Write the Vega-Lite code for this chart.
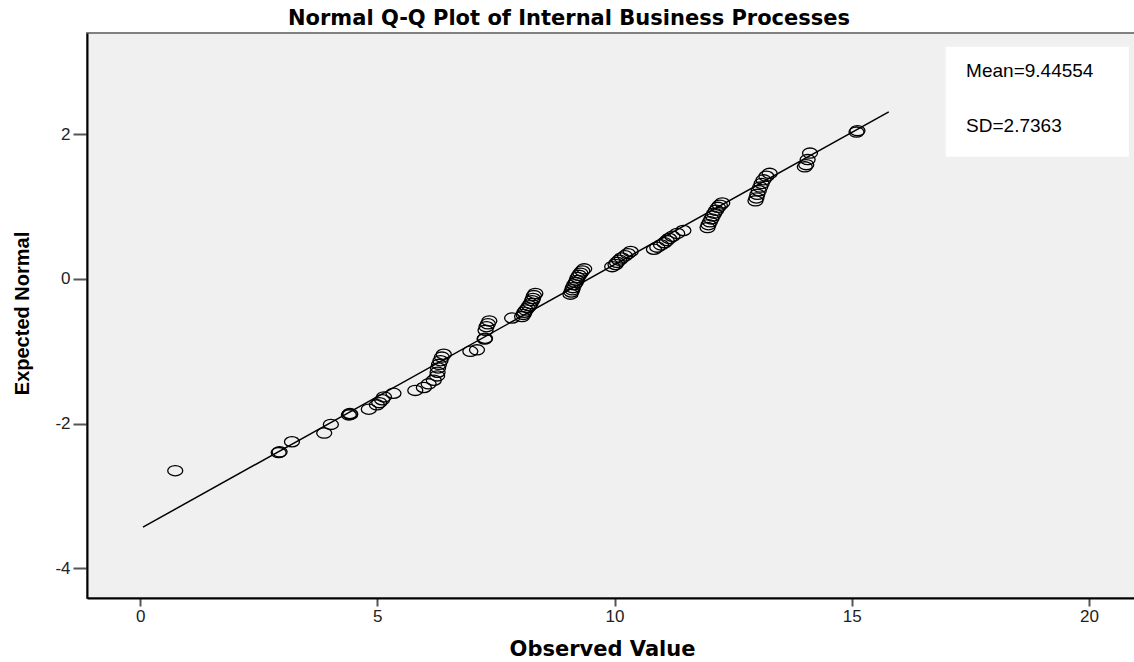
{
  "$schema": "https://vega.github.io/schema/vega-lite/v6.json",
  "width": 1048,
  "height": 565,
  "autosize": {"type": "none"},
  "padding": {"left": 87, "top": 33, "right": 0, "bottom": 64},
  "background": "white",
  "config": {
    "view": {"fill": "#f0f0f0", "stroke": "#808080", "strokeWidth": 2}
  },
  "title": {
    "text": "Normal Q-Q Plot of Internal Business Processes",
    "font": "DejaVu Sans",
    "fontWeight": "bold",
    "fontSize": 21,
    "color": "#000000",
    "anchor": "middle",
    "dx": -42,
    "dy": 22,
    "baseline": "alphabetic",
    "offset": 9
  },
  "layer": [
    {
      "data": {"values": [{}]},
      "mark": {"type": "rect", "fill": "white"},
      "encoding": {
        "x": {"datum": 16.98, "type": "quantitative", "scale": {"domain": [-1.12, 20.97], "nice": false, "zero": false}},
        "x2": {"datum": 20.84},
        "y": {"datum": 3.21, "type": "quantitative", "scale": {"domain": [-4.41, 3.4], "nice": false, "zero": false}},
        "y2": {"datum": 1.69}
      }
    },
    {
      "data": {"values": [{"label": "Mean=9.44554"}]},
      "mark": {"type": "text", "font": "Liberation Sans", "fontSize": 19, "color": "#000000", "align": "left", "baseline": "alphabetic"},
      "encoding": {
        "x": {"datum": 17.41, "type": "quantitative"},
        "y": {"datum": 2.79, "type": "quantitative"},
        "text": {"field": "label"}
      }
    },
    {
      "data": {"values": [{"label": "SD=2.7363"}]},
      "mark": {"type": "text", "font": "Liberation Sans", "fontSize": 19, "color": "#000000", "align": "left", "baseline": "alphabetic"},
      "encoding": {
        "x": {"datum": 17.41, "type": "quantitative"},
        "y": {"datum": 2.03, "type": "quantitative"},
        "text": {"field": "label"}
      }
    },
    {
      "data": {"values": [{"x": 0.06, "y": -3.43}, {"x": 15.78, "y": 2.31}]},
      "mark": {"type": "line", "color": "#000000", "strokeWidth": 1.5},
      "encoding": {
        "x": {
          "field": "x", "type": "quantitative",
          "scale": {"domain": [-1.12, 20.97], "nice": false, "zero": false},
          "axis": {
            "values": [0, 5, 10, 15, 20],
            "labelExpr": "'' + datum.value",
            "grid": false,
            "title": "Observed Value",
            "titleFont": "DejaVu Sans",
            "titleFontWeight": "bold",
            "titleFontSize": 21,
            "titleColor": "#000000",
            "titleX": 515,
            "titleY": 57,
            "titleAlign": "center",
            "titleBaseline": "alphabetic",
            "domainColor": "#000000",
            "domainWidth": 2,
            "tickColor": "#555555",
            "tickWidth": 2,
            "tickSize": 8,
            "labelFont": "Liberation Sans",
            "labelFontSize": 17,
            "labelColor": "#222222",
            "labelPadding": 2
          }
        },
        "y": {
          "field": "y", "type": "quantitative",
          "scale": {"domain": [-4.41, 3.4], "nice": false, "zero": false},
          "axis": {
            "values": [-4, -2, 0, 2],
            "labelExpr": "'' + datum.value",
            "grid": false,
            "title": "Expected Normal",
            "titleFont": "Liberation Sans",
            "titleFontWeight": "bold",
            "titleFontSize": 20,
            "titleColor": "#000000",
            "titleX": -59,
            "titleY": 280,
            "titleAngle": -90,
            "titleAlign": "center",
            "titleBaseline": "alphabetic",
            "domainColor": "#000000",
            "domainWidth": 2,
            "tickColor": "#555555",
            "tickWidth": 2,
            "tickSize": 14,
            "labelFont": "Liberation Sans",
            "labelFontSize": 17,
            "labelColor": "#222222",
            "labelPadding": 3
          }
        }
      }
    },
    {
      "data": {
        "values": [
          {"x": 0.74, "y": -2.65},
          {"x": 2.92, "y": -2.40},
          {"x": 2.94, "y": -2.39},
          {"x": 3.20, "y": -2.25},
          {"x": 3.88, "y": -2.13},
          {"x": 4.02, "y": -2.01},
          {"x": 4.40, "y": -1.88},
          {"x": 4.42, "y": -1.86},
          {"x": 4.43, "y": -1.87},
          {"x": 4.82, "y": -1.80},
          {"x": 4.99, "y": -1.74},
          {"x": 5.04, "y": -1.71},
          {"x": 5.10, "y": -1.67},
          {"x": 5.14, "y": -1.63},
          {"x": 5.34, "y": -1.58},
          {"x": 5.80, "y": -1.54},
          {"x": 5.98, "y": -1.50},
          {"x": 6.08, "y": -1.45},
          {"x": 6.19, "y": -1.40},
          {"x": 6.26, "y": -1.34},
          {"x": 6.27, "y": -1.29},
          {"x": 6.28, "y": -1.23},
          {"x": 6.30, "y": -1.18},
          {"x": 6.33, "y": -1.13},
          {"x": 6.36, "y": -1.08},
          {"x": 6.40, "y": -1.04},
          {"x": 6.96, "y": -1.00},
          {"x": 7.10, "y": -0.98},
          {"x": 7.26, "y": -0.83},
          {"x": 7.27, "y": -0.82},
          {"x": 7.28, "y": -0.71},
          {"x": 7.30, "y": -0.66},
          {"x": 7.33, "y": -0.62},
          {"x": 7.36, "y": -0.58},
          {"x": 7.84, "y": -0.54},
          {"x": 8.05, "y": -0.52},
          {"x": 8.08, "y": -0.49},
          {"x": 8.10, "y": -0.46},
          {"x": 8.13, "y": -0.43},
          {"x": 8.17, "y": -0.40},
          {"x": 8.20, "y": -0.37},
          {"x": 8.23, "y": -0.34},
          {"x": 8.26, "y": -0.30},
          {"x": 8.28, "y": -0.27},
          {"x": 8.30, "y": -0.23},
          {"x": 8.33, "y": -0.20},
          {"x": 9.07, "y": -0.21},
          {"x": 9.09, "y": -0.18},
          {"x": 9.11, "y": -0.15},
          {"x": 9.12, "y": -0.12},
          {"x": 9.15, "y": -0.08},
          {"x": 9.18, "y": -0.05},
          {"x": 9.20, "y": -0.02},
          {"x": 9.22, "y": 0.02},
          {"x": 9.25, "y": 0.05},
          {"x": 9.28, "y": 0.08},
          {"x": 9.32, "y": 0.11},
          {"x": 9.36, "y": 0.14},
          {"x": 9.95, "y": 0.17},
          {"x": 10.02, "y": 0.20},
          {"x": 10.05, "y": 0.23},
          {"x": 10.10, "y": 0.26},
          {"x": 10.15, "y": 0.29},
          {"x": 10.22, "y": 0.32},
          {"x": 10.28, "y": 0.35},
          {"x": 10.34, "y": 0.38},
          {"x": 10.83, "y": 0.41},
          {"x": 10.90, "y": 0.44},
          {"x": 10.98, "y": 0.47},
          {"x": 11.05, "y": 0.50},
          {"x": 11.10, "y": 0.53},
          {"x": 11.15, "y": 0.56},
          {"x": 11.22, "y": 0.59},
          {"x": 11.32, "y": 0.63},
          {"x": 11.45, "y": 0.67},
          {"x": 11.96, "y": 0.71},
          {"x": 11.98, "y": 0.75},
          {"x": 12.01, "y": 0.79},
          {"x": 12.04, "y": 0.83},
          {"x": 12.07, "y": 0.87},
          {"x": 12.10, "y": 0.91},
          {"x": 12.14, "y": 0.95},
          {"x": 12.18, "y": 0.99},
          {"x": 12.22, "y": 1.02},
          {"x": 12.27, "y": 1.05},
          {"x": 12.97, "y": 1.08},
          {"x": 12.99, "y": 1.12},
          {"x": 13.01, "y": 1.17},
          {"x": 13.04, "y": 1.22},
          {"x": 13.07, "y": 1.27},
          {"x": 13.10, "y": 1.32},
          {"x": 13.14, "y": 1.37},
          {"x": 13.20, "y": 1.42},
          {"x": 13.27, "y": 1.46},
          {"x": 14.01, "y": 1.55},
          {"x": 14.04, "y": 1.58},
          {"x": 14.07, "y": 1.65},
          {"x": 14.12, "y": 1.74},
          {"x": 15.10, "y": 2.03},
          {"x": 15.12, "y": 2.05}
        ]
      },
      "mark": {
        "type": "point",
        "shape": "M -1 0 A 1 0.68 0 1 0 1 0 A 1 0.68 0 1 0 -1 0 Z",
        "size": 225,
        "filled": false,
        "stroke": "#000000",
        "strokeWidth": 1.3,
        "opacity": 1
      },
      "encoding": {
        "x": {"field": "x", "type": "quantitative"},
        "y": {"field": "y", "type": "quantitative"}
      }
    }
  ]
}
